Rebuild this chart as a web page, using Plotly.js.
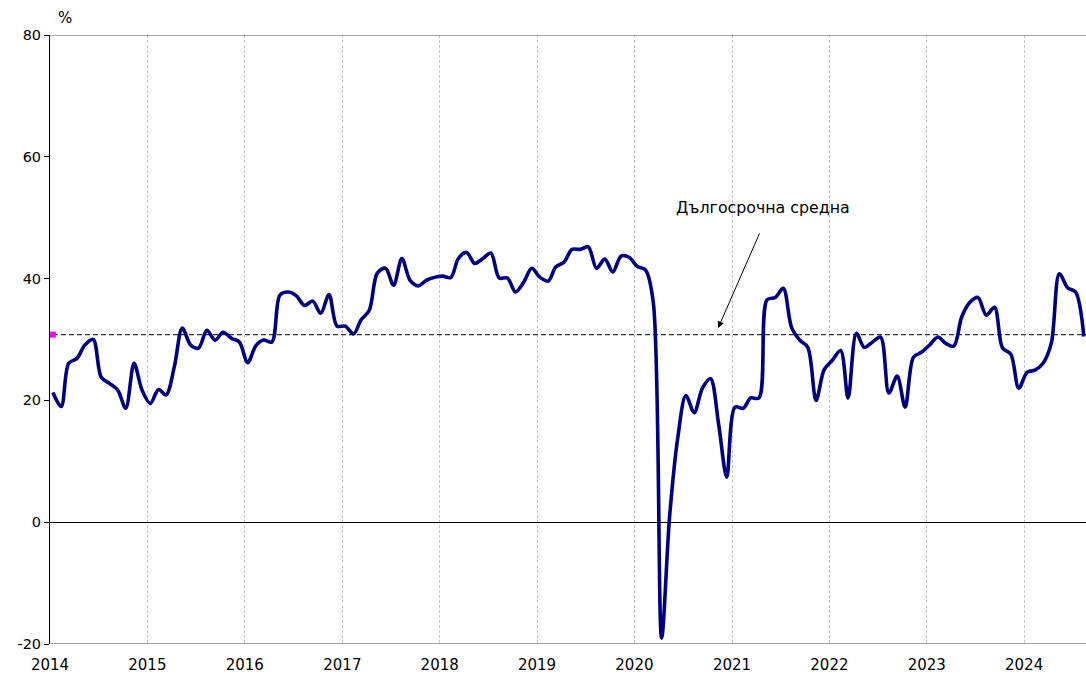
<!DOCTYPE html>
<html>
<head>
<meta charset="utf-8">
<script src="https://cdn.plot.ly/plotly-3.0.1.min.js"></script>
<style>html,body{margin:0;padding:0;background:#fff;}#chart{width:1086px;height:674px;}</style>
</head>
<body>
<div id="chart"></div>
<script>
// Monthly values, Jan 2014 – Aug 2024 (%)
const years = [2014, 2015, 2016, 2017, 2018, 2019, 2020, 2021, 2022, 2023, 2024];
const v2014 = [21.3, 19.0, 26.1, 26.9, 29.1, 30.0, 23.8, 22.8, 21.7, 18.7, 26.1, 21.7];
const v2015 = [19.5, 21.8, 20.9, 25.5, 31.9, 29.1, 28.6, 31.5, 29.9, 31.2, 30.2, 29.6];
const v2016 = [26.2, 29.0, 29.9, 29.6, 37.3, 37.8, 37.2, 35.6, 36.3, 34.3, 37.4, 32.2];
const v2017 = [32.2, 30.9, 33.2, 34.8, 40.9, 41.7, 38.9, 43.3, 39.7, 38.8, 39.7, 40.2];
const v2018 = [40.4, 40.2, 43.3, 44.3, 42.5, 43.3, 44.2, 40.1, 40.1, 37.8, 39.4, 41.7];
const v2019 = [40.2, 39.6, 41.9, 42.7, 44.8, 44.8, 45.2, 41.7, 43.2, 41.1, 43.7, 43.5];
const v2020 = [42.0, 41.4, 36.0, -19.0, 1.0, 14.0, 20.8, 18.0, 22.0, 23.6, 16.0, 7.4];
const v2021 = [18.9, 18.7, 20.4, 20.4, 36.5, 36.9, 38.4, 32.0, 29.9, 28.7, 20.0, 25.0];
const v2022 = [26.6, 28.2, 20.4, 31.0, 28.7, 29.6, 30.4, 21.2, 24.0, 18.9, 27.1, 27.9];
const v2023 = [29.1, 30.4, 29.4, 28.9, 33.7, 36.1, 36.9, 34.0, 35.3, 28.6, 27.6, 22.0];
const v2024 = [24.6, 25.0, 26.1, 29.4, 40.8, 38.5, 37.8, 30.5];
const longTermAverage = 30.8;
const yTickVals = [-20, 0, 20, 40, 60, 80];
const yTickText = ['-20', '0', '20', '40', '60', '80'];
const annotationText = 'Дългосрочна средна';
const unitLabel = '%';

const seriesByYear = [v2014, v2015, v2016, v2017, v2018, v2019, v2020, v2021, v2022, v2023, v2024];
const xDates = [], yVals = [];
seriesByYear.forEach((arr, yi) => {
  arr.forEach((val, mi) => {
    const mm = String(mi + 1).padStart(2, '0');
    xDates.push(years[yi] + '-' + mm + '-12');
    yVals.push(val);
  });
});
const xEnd = '2024-08-20';
const xStart = '2014-01-01';

const traces = [
  {
    x: [xDates[0], xEnd], y: [longTermAverage, longTermAverage],
    mode: 'lines', line: {color: '#303030', width: 1.3, dash: '5px,3px'},
    hoverinfo: 'skip'
  },
  {
    x: xDates, y: yVals, mode: 'lines',
    line: {color: '#000080', width: 3.6, shape: 'spline', smoothing: 0.9},
    hoverinfo: 'skip'
  },
  {
    x: [xDates[0]], y: [longTermAverage], mode: 'markers',
    marker: {color: '#ff00ff', size: 6, symbol: 'square'},
    hoverinfo: 'skip', cliponaxis: false
  }
];

const tickYearVals = years.map(y => y + '-01-01');
const tickYearText = years.map(y => String(y));

const layout = {
  width: 1086, height: 674,
  margin: {l: 50, r: 0, t: 35, b: 30},
  paper_bgcolor: '#ffffff', plot_bgcolor: '#ffffff',
  showlegend: false,
  font: {family: 'DejaVu Sans, Verdana, sans-serif', size: 14, color: '#000000'},
  xaxis: {
    type: 'date', range: [xStart, xEnd],
    tickvals: tickYearVals, ticktext: tickYearText,
    showgrid: true, gridcolor: '#c8c8c8', griddash: '3px,2px', gridwidth: 1,
    zeroline: false, showline: false, ticks: '',
    tickfont: {size: 15, color: '#000'}, ticklabelstandoff: 10
  },
  yaxis: {
    range: [-20, 80], tickvals: yTickVals, ticktext: yTickText,
    showgrid: false, zeroline: true, zerolinecolor: '#000000', zerolinewidth: 1,
    showline: true, linecolor: '#000000', linewidth: 1,
    ticks: 'outside', ticklen: 5, tickcolor: '#000000',
    tickfont: {size: 14.5, color: '#000'}
  },
  shapes: [
    {type: 'line', xref: 'paper', yref: 'y', x0: 0, x1: 1, y0: 80, y1: 80, line: {color: '#505050', width: 1}},
    {type: 'line', xref: 'paper', yref: 'y', x0: 0, x1: 1, y0: -20, y1: -20, line: {color: '#a0a0a0', width: 2}}
  ],
  annotations: [
    {xref: 'paper', yref: 'paper', x: 0.0145, y: 1.028, text: unitLabel, showarrow: false,
     font: {size: 15}, xanchor: 'center', yanchor: 'middle'},
    {xref: 'paper', yref: 'paper', x: 0.688, y: 0.716, text: annotationText, showarrow: false,
     font: {size: 15.8}, xanchor: 'center', yanchor: 'middle'},
    {xref: 'x', yref: 'y', x: '2020-11-10', y: 31.9, text: '', showarrow: true,
     axref: 'pixel', ayref: 'pixel', ax: 42, ay: -96,
     arrowhead: 2, arrowsize: 1.3, arrowwidth: 1, arrowcolor: '#000000'}
  ]
};

Plotly.newPlot('chart', traces, layout, {staticPlot: true, displayModeBar: false});
</script>
</body>
</html>
